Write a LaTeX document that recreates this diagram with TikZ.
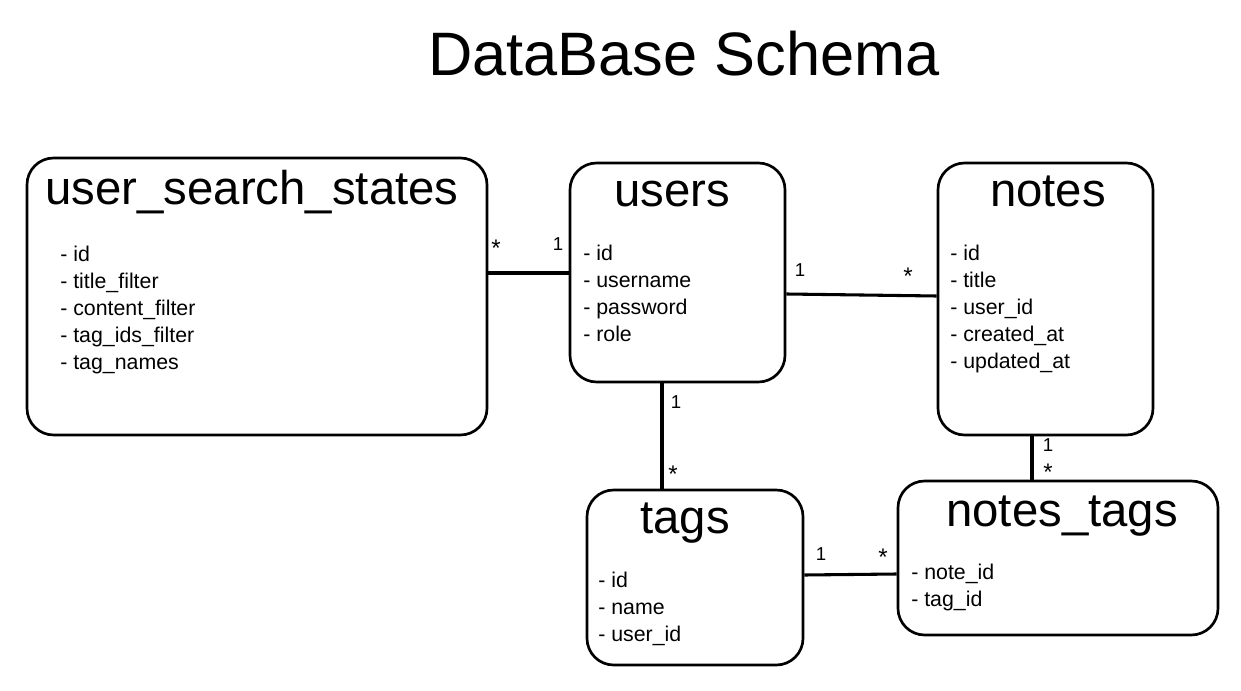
\documentclass[tikz,border=0pt]{standalone}
\usepackage{fontspec}
\setmainfont{Liberation Sans}
\begin{document}
\begin{tikzpicture}[x=0.75pt,y=-0.75pt,
  tbl/.style={draw=black, line width=2pt, rounded corners=20pt, inner sep=0pt},
  ttl/.style={anchor=base, inner sep=0pt, font=\fontsize{35.5}{40}\selectfont},
  fld/.style={anchor=north west, inner sep=0pt, align=left, font=\fontsize{16}{20.25}\selectfont},
  card/.style={inner sep=0pt, font=\fontsize{14}{16}\selectfont},
  star/.style={inner sep=0pt, font=\fontsize{18}{20}\selectfont},
  rel/.style={line width=2.3pt}]
\useasboundingbox[fill=white] (0,0) rectangle (1241,691);

\node[anchor=base, inner sep=0pt, font=\fontsize{46}{50}\selectfont] (title) at (684,76) {DataBase Schema};

% tables
\node[tbl, minimum width=345pt, minimum height=207.75pt] (uss) at (257,296.5) {};
\node[tbl, minimum width=161.25pt, minimum height=164.25pt] (users) at (677.5,272.5) {};
\node[tbl, minimum width=161.25pt, minimum height=204pt] (notes) at (1045.5,299) {};
\node[tbl, minimum width=162pt, minimum height=131.25pt] (tags) at (695,577.5) {};
\node[tbl, minimum width=240pt, minimum height=115.5pt] (nt) at (1058,558) {};

% titles
\node[ttl] (ussT) at (252,205) {user\_search\_states};
\node[ttl] (usersT) at (672,207) {users};
\node[ttl] (notesT) at (1048,207) {notes};
\node[ttl] (tagsT) at (685,533) {tags};
\node[ttl] (ntT) at (1062,526) {notes\_tags};

% fields
\node[fld] (ussF) at (60,242) {\strut- id\\\strut- title\_filter\\\strut- content\_filter\\\strut- tag\_ids\_filter\\\strut- tag\_names};
\node[fld] (usersF) at (583,241) {\strut- id\\\strut- username\\\strut- password\\\strut- role};
\node[fld] (notesF) at (950,241) {\strut- id\\\strut- title\\\strut- user\_id\\\strut- created\_at\\\strut- updated\_at};
\node[fld] (tagsF) at (598,568) {\strut- id\\\strut- name\\\strut- user\_id};
\node[fld] (ntF) at (911,560) {\strut- note\_id\\\strut- tag\_id};

% relations
\draw[rel] (uss.east |- 0,273) -- (users.west |- 0,273);
\draw[rel] (users.east |- 0,294) -- (notes.west |- 0,296);
\draw[rel] (users.south -| 662,0) -- (tags.north -| 662,0);
\draw[rel] (notes.south -| 1032,0) -- (nt.north -| 1032,0);
\draw[rel] (tags.east |- 0,575) -- (nt.west |- 0,574);

% cardinalities
\node[star] (c1) at (496,248) {*};
\node[card] (c2) at (558,244) {1};
\node[card] (c3) at (800,270) {1};
\node[star] (c4) at (908,276) {*};
\node[card] (c5) at (676,402) {1};
\node[star] (c6) at (673,474) {*};
\node[card] (c7) at (1048,445) {1};
\node[star] (c8) at (1048,472) {*};
\node[card] (c9) at (821,554) {1};
\node[star] (c10) at (883,557) {*};
\end{tikzpicture}
\end{document}
